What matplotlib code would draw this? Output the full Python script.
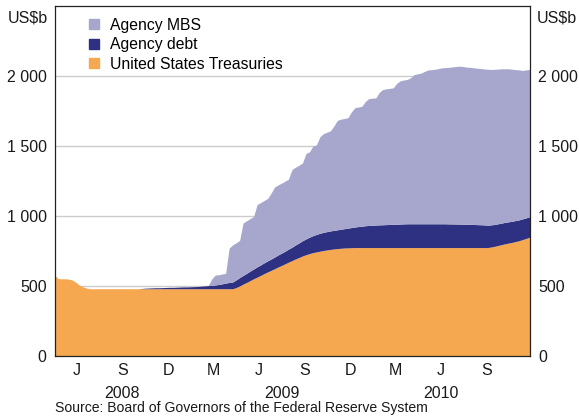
import numpy as np
import pandas as pd
import matplotlib
matplotlib.use("Agg")
import matplotlib.pyplot as plt
import matplotlib.dates as mdates
from matplotlib.lines import Line2D
from matplotlib.ticker import FuncFormatter

plt.rcParams['font.family'] = ['Liberation Sans', 'DejaVu Sans']

# weekly Fed holdings, US$b
dates = pd.date_range('2008-04-02', periods=137, freq='7D')

treasuries = [
    575, 550, 548, 548, 546, 540, 525, 505, 492, 483,
    477, 477, 477, 477, 477, 477, 477, 477, 477, 477,
    477, 477, 477, 477, 477, 477, 477, 477, 477, 477,
    477, 477, 477, 477, 477, 477, 477, 477, 477, 477,
    477, 477, 477, 477, 477, 477, 477, 477, 477, 477,
    477, 477, 485, 497, 510, 522, 535, 548, 560, 572,
    585, 597, 608, 620, 632, 643, 655, 667, 678, 690,
    700, 711, 720, 728, 735, 740, 745, 750, 754, 758,
    761, 764, 766, 768, 769, 770, 771, 771, 771, 771,
    771, 771, 771, 771, 771, 771, 771, 771, 771, 771,
    771, 771, 771, 771, 771, 771, 771, 771, 771, 771,
    771, 771, 771, 771, 771, 771, 771, 771, 771, 771,
    771, 771, 771, 771, 771, 775, 780, 786, 792, 798,
    803, 808, 814, 820, 828, 836, 845,
]

agency_debt = [
    0, 0, 0, 0, 0, 0, 0, 0, 0, 0,
    0, 0, 0, 0, 0, 0, 0, 0, 0, 0,
    0, 0, 0, 0, 0, 2, 4, 5, 6, 7,
    7, 8, 9, 10, 10, 11, 12, 13, 13, 14,
    15, 16, 18, 20, 22, 24, 27, 30, 35, 40,
    45, 48, 55, 60, 62, 65, 68, 70, 73, 75,
    77, 79, 81, 83, 86, 88, 90, 93, 96, 100,
    104, 109, 113, 117, 121, 125, 128, 130, 131, 132,
    133, 134, 136, 138, 141, 144, 147, 150, 153, 156,
    158, 160, 161, 162, 163, 164, 165, 166, 167, 168,
    169, 170, 170, 170, 170, 170, 170, 170, 170, 170,
    170, 170, 170, 169, 169, 168, 168, 167, 167, 166,
    165, 164, 163, 162, 160, 158, 156, 155, 154, 153,
    152, 151, 150, 149, 148, 147, 146,
]

agency_mbs = [
    0, 0, 0, 0, 0, 0, 0, 0, 0, 0,
    0, 0, 0, 0, 0, 0, 0, 0, 0, 0,
    0, 0, 0, 0, 0, 0, 0, 0, 0, 0,
    0, 0, 0, 0, 0, 0, 0, 0, 0, 0,
    0, 0, 0, 0, 0, 45, 70, 70, 70, 70,
    245, 265, 265, 265, 375, 375, 375, 375, 445, 445,
    445, 445, 470, 500, 500, 500, 500, 500, 555, 555,
    555, 555, 610, 610, 640, 640, 690, 705, 710, 715,
    746, 782, 786, 787, 788, 826, 852, 854, 856, 888,
    906, 907, 908, 947, 966, 970, 972, 975, 1007, 1023,
    1028, 1031, 1044, 1066, 1071, 1077, 1089, 1099, 1101, 1104,
    1109, 1114, 1116, 1118, 1122, 1125, 1128, 1126, 1122, 1121,
    1119, 1117, 1116, 1114, 1114, 1110, 1108, 1105, 1102, 1097,
    1093, 1086, 1078, 1071, 1060, 1057, 1052,
]

quarter_labels = ['J', 'S', 'D', 'M', 'J', 'S', 'D', 'M', 'J', 'S']
quarter_mids = pd.to_datetime([
    '2008-05-16', '2008-08-15', '2008-11-15', '2009-02-14', '2009-05-16',
    '2009-08-15', '2009-11-15', '2010-02-14', '2010-05-16', '2010-08-15',
])
years = ['2008', '2009', '2010']
year_pos = pd.to_datetime(['2008-08-15', '2009-07-01', '2010-05-16'])

c_mbs = '#a7a7cd'
c_debt = '#2e3081'
c_tsy = '#f5a850'
txt = '#1a1a1a'
fs = 11.5

fig = plt.figure(figsize=(5.79, 4.18), dpi=100)
ax = fig.add_axes([55 / 579, 1 - 356 / 418, 475 / 579, 350 / 418])

ax.stackplot(dates, treasuries, agency_debt, agency_mbs,
             colors=[c_tsy, c_debt, c_mbs], linewidth=0, zorder=2)

ax.set_ylim(0, 2500)
ax.set_xlim(dates[0], dates[-1])
ax.set_yticks([0, 500, 1000, 1500, 2000])
ax.yaxis.set_major_formatter(FuncFormatter(lambda v, p: f'{int(v):,}'.replace(',', ' ')))
ax.grid(axis='y', color='#cccccc', linewidth=1)
ax.set_axisbelow(True)
ax.tick_params(axis='y', length=0, pad=6, labelsize=fs, labelcolor=txt,
               labelright=True)

ax.xaxis.set_major_locator(mdates.MonthLocator(bymonth=[1, 4, 7, 10]))
ax.xaxis.set_major_formatter(plt.NullFormatter())
ax.set_xticks(quarter_mids, minor=True)
ax.set_xticklabels(quarter_labels, minor=True)
ax.tick_params(axis='x', which='major', direction='in', length=4, width=0.8,
               color='#333333')
ax.tick_params(axis='x', which='minor', length=0, pad=5, labelsize=fs,
               labelcolor=txt)

for s in ax.spines.values():
    s.set_color('#222222')
    s.set_linewidth(0.9)
    s.set_zorder(3)

for y, lab in zip(year_pos, years):
    ax.text(y, -0.107, lab, transform=ax.get_xaxis_transform(),
            ha='center', va='center', fontsize=fs, color=txt)

fig.text(48 / 579, 1 - 18 / 418, 'US$b', ha='right', va='center',
         fontsize=fs, color=txt)
fig.text(537 / 579, 1 - 18 / 418, 'US$b', ha='left', va='center',
         fontsize=fs, color=txt)
fig.text(55 / 579, 1 - 408 / 418,
         'Source: Board of Governors of the Federal Reserve System',
         ha='left', va='center', fontsize=10.1, color=txt)

handles = [Line2D([], [], marker='s', linestyle='none', markersize=7,
                  markerfacecolor=c, markeredgecolor=c)
           for c in (c_mbs, c_debt, c_tsy)]
ax.legend(handles, ['Agency MBS', 'Agency debt', 'United States Treasuries'],
          loc='upper left', bbox_to_anchor=(0.054, 0.985), frameon=False,
          fontsize=11.3, handlelength=0.9, handletextpad=0.6,
          labelspacing=0.3, borderaxespad=0)

fig.savefig('out.png', dpi=100)
